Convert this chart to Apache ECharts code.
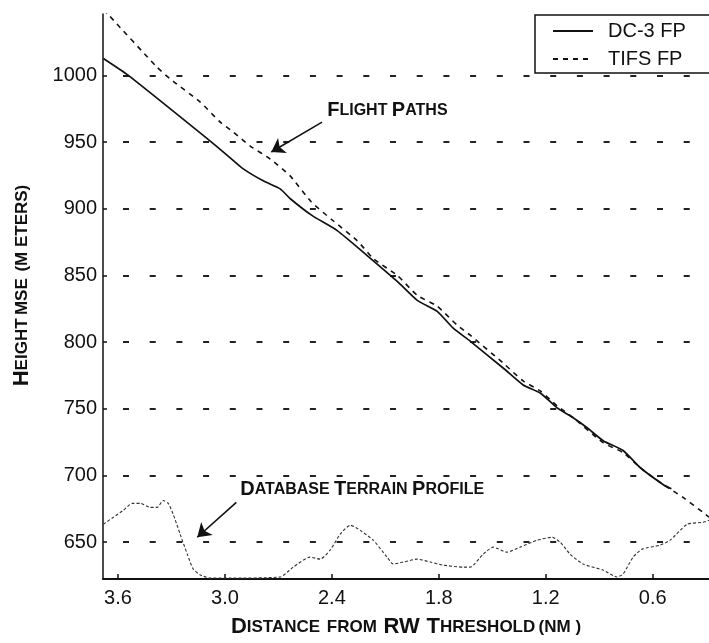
<!DOCTYPE html>
<html>
<head>
<meta charset="utf-8">
<script src="https://cdn.jsdelivr.net/npm/echarts@6/dist/echarts.min.js"></script>
<style>
html,body{margin:0;padding:0;background:#fff;}
#chart{width:709px;height:643px;}
</style>
</head>
<body>
<div id="chart"></div>
<script>
// Tick labels
const xTicks = [3.6, 3.0, 2.4, 1.8, 1.2, 0.6];
const yTicks = [650, 700, 750, 800, 850, 900, 950, 1000];

// DC-3 flight path (distance NM, height m)
const dc3X = [3.682, 3.542, 3.082, 2.970, 2.897, 2.785, 2.690, 2.633, 2.510, 2.370, 2.202, 2.033, 1.921, 1.809, 1.719, 1.624, 1.439, 1.327, 1.231, 1.136, 1.046, 0.968, 0.878, 0.766, 0.671, 0.542, 0.495];
const dc3Y = [1012.7, 1000.0, 950.7, 938.1, 929.9, 920.9, 914.9, 907.5, 894.8, 883.6, 864.9, 845.5, 831.3, 823.1, 810.4, 800.7, 780.6, 767.9, 761.9, 750.7, 743.3, 735.8, 726.1, 718.7, 706.0, 693.3, 690.0];

// TIFS flight path
const tifsX = [3.682, 3.654, 3.380, 3.290, 3.138, 3.026, 2.953, 2.858, 2.746, 2.634, 2.516, 2.393, 2.258, 2.168, 2.033, 1.921, 1.809, 1.697, 1.624, 1.439, 1.327, 1.231, 1.136, 1.046, 0.878, 0.766, 0.671, 0.542, 0.430, 0.318, 0.284];
const tifsY = [1049.3, 1045.5, 1006.0, 995.5, 979.9, 964.9, 957.5, 947.0, 937.3, 924.6, 905.2, 891.0, 876.1, 862.7, 850.0, 835.1, 826.9, 812.7, 805.2, 784.3, 770.9, 763.4, 752.2, 743.3, 724.6, 717.2, 706.0, 693.3, 683.6, 672.4, 668.7];

// Database terrain profile
const terrainX = [3.682, 3.626, 3.570, 3.520, 3.475, 3.419, 3.380, 3.346, 3.318, 3.290, 3.251, 3.211, 3.178, 3.138, 3.082, 2.970, 2.690, 2.617, 2.522, 2.466, 2.410, 2.353, 2.297, 2.241, 2.168, 2.090, 2.056, 2.000, 1.921, 1.848, 1.775, 1.663, 1.624, 1.551, 1.495, 1.417, 1.344, 1.248, 1.164, 1.119, 1.063, 0.990, 0.878, 0.800, 0.766, 0.710, 0.659, 0.558, 0.502, 0.407, 0.318, 0.284];
const terrainY = [663.4, 668.7, 673.9, 679.1, 679.1, 676.1, 676.1, 681.3, 679.1, 670.9, 655.9, 641.0, 629.9, 625.4, 623.1, 623.1, 623.9, 631.3, 638.8, 637.3, 644.0, 656.0, 662.7, 658.9, 651.5, 638.8, 633.6, 635.1, 637.3, 635.1, 632.8, 631.3, 631.3, 641.0, 646.3, 642.5, 646.3, 651.5, 653.7, 650.0, 641.0, 633.6, 629.1, 623.9, 626.1, 638.8, 644.8, 647.8, 651.5, 663.4, 664.9, 666.4];

const seriesNames = ['DC-3 FP', 'TIFS FP', 'Terrain'];

function zip(xs, ys) { return xs.map((x, i) => [x, ys[i]]); }

const FONT = '"Liberation Sans", Arial, sans-serif';
const chart = echarts.init(document.getElementById('chart'), null, {renderer: 'canvas'});

function sc(big, small) { return '{b|' + big + '}{s|' + small + '}'; }

const option = {
  backgroundColor: '#fff',
  animation: false,
  grid: {left: 103, right: 0, top: 14, bottom: 61, containLabel: false},
  legend: {
    left: 535, top: 15, orient: 'vertical',
    data: [seriesNames[0], seriesNames[1]],
    borderColor: '#111', borderWidth: 1.5, borderRadius: 0,
    padding: [6, 30, 4, 17], itemGap: 8, itemWidth: 40, itemHeight: 14,
    itemStyle: {opacity: 0, color: 'rgba(0,0,0,0)', borderWidth: 0},
    textStyle: {fontFamily: FONT, fontSize: 20, color: '#111', padding: [0, 0, 0, 10], lineHeight: 20},
    backgroundColor: '#fff'
  },
  xAxis: {
    type: 'value', inverse: true, min: 0.284, max: 3.684,
    axisLine: {show: true, onZero: false, lineStyle: {color: '#111', width: 2}},
    axisTick: {show: true, inside: true, length: 5, customValues: xTicks, lineStyle: {color: '#111', width: 1.5}},
    axisLabel: {customValues: xTicks, formatter: v => v.toFixed(1), fontFamily: FONT, fontSize: 20, color: '#111', margin: 9},
    splitLine: {show: false},
    name: sc('D', 'ISTANCE') + '  {s|FROM}  {b|RW}  ' + sc('T', 'HRESHOLD') + ' {s|(NM )}',
    nameLocation: 'middle', nameGap: 37,
    nameTextStyle: {
      fontFamily: FONT, color: '#111',
      rich: {b: {fontSize: 22, fontWeight: 'bold', fontFamily: FONT, color: '#111'},
             s: {fontSize: 17, fontWeight: 'bold', fontFamily: FONT, color: '#111'}}
    }
  },
  yAxis: {
    type: 'value', min: 622.4, max: 1046,
    axisLine: {show: true, onZero: false, lineStyle: {color: '#111', width: 1.5}},
    axisTick: {show: true, inside: true, length: 4, customValues: yTicks, lineStyle: {color: '#111', width: 1.5}},
    axisLabel: {customValues: yTicks, formatter: v => String(Math.round(v)), fontFamily: FONT, fontSize: 20, color: '#111', margin: 6},
    splitLine: {show: true, lineStyle: {color: '#222', width: 2, type: [6, 20.7], dashOffset: -20}},
    name: sc('H', 'EIGHT') + ' {s|MSE}  {s|(M ETERS)}',
    nameLocation: 'middle', nameGap: 70, nameRotate: 90,
    nameTextStyle: {
      fontFamily: FONT, color: '#111', padding: [0, 0, 0, 22],
      rich: {b: {fontSize: 22, fontWeight: 'bold', fontFamily: FONT, color: '#111'},
             s: {fontSize: 17, fontWeight: 'bold', fontFamily: FONT, color: '#111'}}
    }
  },
  series: [
    {name: seriesNames[0], type: 'line', data: zip(dc3X, dc3Y), showSymbol: false, symbol: 'none', clip: true, smooth: 0.2,
     lineStyle: {color: '#111', width: 1.7, type: 'solid'}, itemStyle: {color: '#111'}},
    {name: seriesNames[1], type: 'line', data: zip(tifsX, tifsY), showSymbol: false, symbol: 'none', clip: true, smooth: 0.2,
     lineStyle: {color: '#111', width: 1.6, type: [5, 5]}, itemStyle: {color: '#111'}},
    {name: seriesNames[2], type: 'line', data: zip(terrainX, terrainY), showSymbol: false, symbol: 'none', clip: true, smooth: 0.2,
     lineStyle: {color: '#333', width: 1.1, type: [3, 2]}, itemStyle: {color: '#333'},
     markLine: {
       silent: true, symbol: ['none', 'arrow'], symbolSize: 13, animation: false,
       lineStyle: {color: '#111', width: 1.6, type: 'solid'}, itemStyle: {color: '#111'}, label: {show: false},
       data: [
         [{coord: [2.455, 964.9]}, {coord: [2.740, 942.5]}],
         [{coord: [2.936, 679.9]}, {coord: [3.155, 653.7]}]
       ]
     }}
  ]
};
chart.setOption(option);

const ann = [
  {pos: [2.426, 973.1], text: sc('F', 'LIGHT') + ' ' + sc('P', 'ATHS')},
  {pos: [2.914, 688.8], text: sc('D', 'ATABASE') + ' ' + sc('T', 'ERRAIN') + ' ' + sc('P', 'ROFILE')}
];
chart.setOption({
  graphic: ann.map(a => {
    const p = chart.convertToPixel({gridIndex: 0}, a.pos);
    return {
      type: 'text', left: p[0], top: p[1] - 11, silent: true,
      style: {
        text: a.text, fill: '#111', font: 'bold 16px ' + FONT,
        rich: {b: {fontSize: 20, fontWeight: 'bold', fontFamily: FONT, fill: '#111', color: '#111'},
               s: {fontSize: 16, fontWeight: 'bold', fontFamily: FONT, fill: '#111', color: '#111'}}
      }
    };
  })
});
</script>
</body>
</html>
